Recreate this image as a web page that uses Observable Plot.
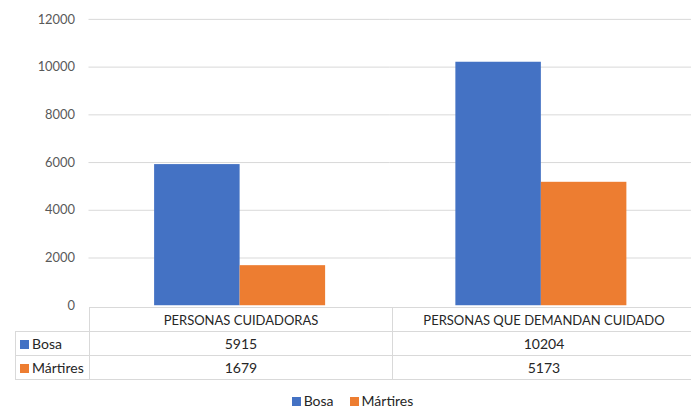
<!DOCTYPE html>
<html>
<head>
<meta charset="utf-8">
<script src="https://cdn.jsdelivr.net/npm/d3@7"></script>
<script src="https://cdn.jsdelivr.net/npm/@observablehq/plot@0.6"></script>
<style>
  html, body { margin: 0; padding: 0; background: #fff; overflow: hidden; }
  #wrap { position: relative; width: 691px; height: 408px; overflow: hidden; font-family: Lato, "Open Sans", sans-serif; color: #404040; }
  #chart { position: absolute; left: 0; top: 0; }
  #tbl { position: absolute; border-collapse: collapse; table-layout: fixed; font-size: 14px; color: #262626; }
  #tbl td { border: 1px solid #d9d9d9; height: 23px; padding: 0; text-align: center; white-space: nowrap; }
  #tbl tr.hdr td { font-size: 13px; }
  #tbl td.rh { text-align: left; padding-left: 4px; }
  #tbl td.blank { border-top: none; border-left: none; }
  .sw { display: inline-block; width: 9px; height: 9px; margin-right: 3px; vertical-align: 0px; }
  #legend { position: absolute; top: 392px; left: 0; width: 705px; text-align: center; font-size: 14px; color: #262626; white-space: nowrap; }
  #legend span.item + span.item { margin-left: 16px; }
</style>
</head>
<body>
<div id="wrap">
  <div id="chart"></div>
  <table id="tbl"></table>
  <div id="legend"></div>
</div>
<script>
const categories = ["PERSONAS CUIDADORAS", "PERSONAS QUE DEMANDAN CUIDADO"];
const series = ["Bosa", "Mártires"];
const bosa = [5915, 10204];
const martires = [1679, 5173];
const colors = ["#4472C4", "#ED7D31"];
const yTicks = [0, 2000, 4000, 6000, 8000, 10000, 12000];

const values = {"Bosa": bosa, "Mártires": martires};
const data = categories.flatMap((c, i) => series.map(s => ({cat: c, s, v: values[s][i]})));

const plot = Plot.plot({
  width: 695,
  height: 380,
  marginTop: 19,
  marginBottom: 73,
  marginLeft: 89,
  marginRight: 0,
  style: {fontFamily: "Lato, 'Open Sans', sans-serif", fontSize: "13px", color: "#595959", background: "transparent"},
  fx: {domain: categories, padding: 0, axis: null},
  x: {domain: series, paddingInner: 0, paddingOuter: 0.751, axis: null},
  y: {domain: [0, 12000], axis: null},
  color: {domain: series, range: colors},
  marks: [
    Plot.gridY(yTicks.filter(t => t > 0), {stroke: "#d9d9d9", strokeOpacity: 1}),
    Plot.axisY(yTicks, {tickSize: 0, tickPadding: 14, tickFormat: d => String(d), fill: "#595959", label: null}),
    Plot.barY(data, {fx: "cat", x: "s", y: "v", fill: "s"})
  ]
});
document.getElementById("chart").appendChild(plot);

// Data table aligned with the fx scale
const fx = plot.scale("fx");
const colW = fx.bandwidth !== undefined ? fx.bandwidth : 303;
const left0 = 15;
const plotLeft = 89;
const tbl = document.getElementById("tbl");
tbl.style.left = left0 + "px";
tbl.style.top = "307px";
const cg = document.createElement("colgroup");
[plotLeft - left0, ...categories.map(() => colW)].forEach(w => {
  const col = document.createElement("col");
  col.style.width = w + "px";
  cg.appendChild(col);
});
tbl.appendChild(cg);
tbl.style.width = (plotLeft - left0 + colW * categories.length) + "px";
const hr = document.createElement("tr");
hr.className = "hdr";
const blank = document.createElement("td");
blank.className = "blank";
hr.appendChild(blank);
categories.forEach(c => {
  const td = document.createElement("td");
  td.textContent = c;
  hr.appendChild(td);
});
tbl.appendChild(hr);
series.forEach((s, si) => {
  const tr = document.createElement("tr");
  const th = document.createElement("td");
  th.className = "rh";
  th.innerHTML = `<span class="sw" style="background:${colors[si]}"></span>`;
  th.appendChild(document.createTextNode(s));
  tr.appendChild(th);
  values[s].forEach(v => {
    const td = document.createElement("td");
    td.textContent = String(v);
    tr.appendChild(td);
  });
  tbl.appendChild(tr);
});

// Legend
const lg = document.getElementById("legend");
series.forEach((s, si) => {
  const it = document.createElement("span");
  it.className = "item";
  it.innerHTML = `<span class="sw" style="background:${colors[si]}"></span>`;
  it.appendChild(document.createTextNode(s));
  lg.appendChild(it);
});
</script>
</body>
</html>
